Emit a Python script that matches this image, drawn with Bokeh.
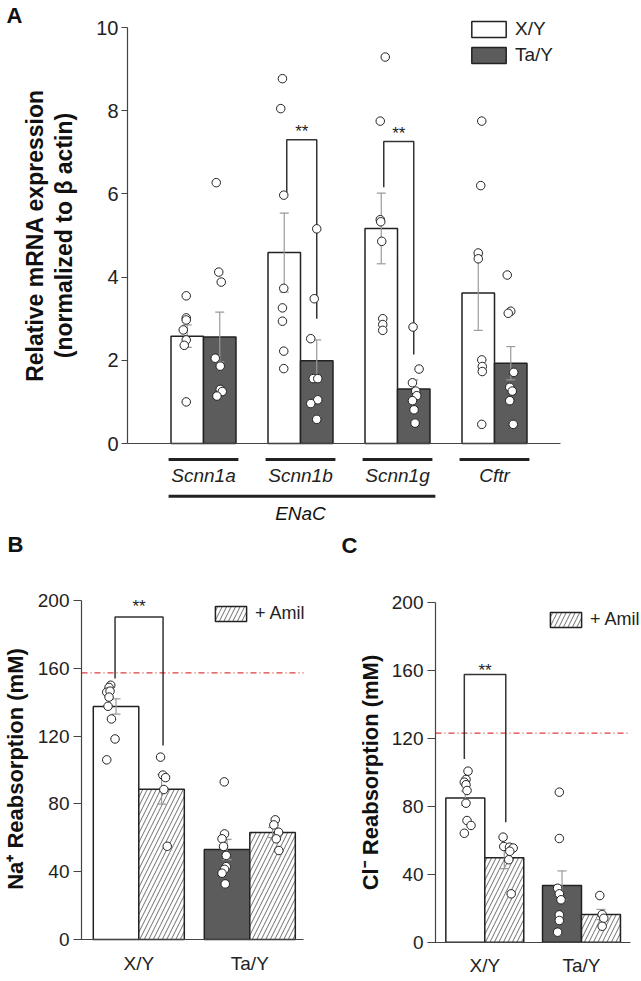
import numpy as np
from bokeh.plotting import figure
from bokeh.layouts import column, row
from bokeh.models import Range1d, FixedTicker, Legend, LegendItem
from bokeh.core.properties import value
from bokeh.embed import file_html
from bokeh.resources import INLINE

FONT = "Liberation Sans"
INK = "#222222"
AXC = "#444444"
DARK = "#5c5c5c"
ERRC = "#9a9a9a"
REDC = "#e03c3c"

# ---------------- Panel A data ----------------
genes = ["Scnn1a", "Scnn1b", "Scnn1g", "Cftr"]
a_xy_mean = [2.58, 4.59, 5.17, 3.62]
a_xy_sem = [0.27, 0.95, 0.85, 0.90]
a_ta_mean = [2.56, 1.99, 1.31, 1.93]
a_ta_sem = [0.60, 0.50, 0.22, 0.40]
a_xy_pts = [
    [3.55, 3.02, 2.97, 2.73, 2.49, 2.36, 1.00],
    [8.77, 8.05, 5.97, 3.73, 3.26, 2.94, 2.22, 1.80],
    [9.29, 7.75, 5.38, 5.33, 4.86, 3.00, 2.86, 2.72],
    [7.75, 6.20, 4.58, 4.44, 2.01, 1.85, 1.73, 0.46],
]
a_ta_pts = [
    [6.27, 4.12, 3.88, 2.05, 1.86, 1.30, 1.25, 1.14],
    [5.16, 3.48, 2.52, 1.56, 1.56, 1.05, 0.96, 0.58],
    [2.80, 1.79, 1.46, 1.26, 1.15, 1.03, 0.81, 0.49],
    [4.05, 3.18, 3.13, 1.71, 1.35, 1.26, 1.03, 0.46],
]
a_xy_jit = [
    [-1, -1, -1, -4, -1, -3, -1],
    [-1.8, -3.5, -0.5, -0.5, -1.8, -1.8, -0.5, -0.5],
    [4, -1, -1, -0.5, 0.5, 1.5, 1.5, 1.5],
    [3.5, 2.5, 0, 0, 3.5, 4, 4, 3.5],
]
a_ta_jit = [
    [-3.5, -1, 1.5, -4.5, 0.5, 0.5, 2.5, -2.8],
    [0, -2.5, -6, -3.5, 1, 1, -6, 0],
    [-0.7, 5.3, -1.3, 2, 3, -1.3, 0.3, 1.3],
    [-3.5, 0, -2.5, 3, -1, 1.5, -1, 2.5],
]
a_yticks = [0, 2, 4, 6, 8, 10]
a_ylabel = ["Relative mRNA expression", "(normalized to \u03b2 actin)"]
a_group_label = "ENaC"
a_enac_members = [0, 1, 2]
# significance brackets: (gene index, top, left-leg end, right-leg end)
a_brackets = [(1, 7.30, 5.98, 3.00), (2, 7.26, 6.16, 2.14)]

# ---------------- Panels B / C data ----------------
bc_groups = ["X/Y", "Ta/Y"]
bc_yticks = [0, 40, 80, 120, 160, 200]
amil_label = "+ Amil"

b_ctrl_mean = [137.5, 53.1]
b_ctrl_sem = [4.5, 6.0]
b_amil_mean = [88.7, 63.1]
b_amil_sem = [8.8, 3.0]
b_ctrl_pts = [
    [150.0, 148.7, 145.9, 146.5, 143.0, 137.6, 130.1, 118.3, 106.0],
    [93.0, 62.3, 59.4, 54.9, 49.6, 43.0, 41.4, 39.1, 32.8],
]
b_amil_pts = [
    [107.6, 97.0, 95.5, 88.5, 55.0],
    [70.6, 67.6, 63.3, 59.4, 52.5],
]
b_ctrl_jit = [[-5.3, -7, -9.3, -6, -7, -8, -4.6, -1, -9.3],
              [-2.8, -2.5, -5, -3.5, -0.8, -0.8, -2.5, -5, -1.8]]
b_amil_jit = [[-1, 1.3, 4, 2.3, 5.7], [2.7, 1.3, 6, 3.7, 6.3]]
b_ref = 157.3
b_bracket = (190.2, 154.0, 114.5)

c_ctrl_mean = [84.9, 33.4]
c_ctrl_sem = [4.2, 8.6]
c_amil_mean = [49.7, 16.3]
c_amil_sem = [6.3, 3.0]
c_ctrl_pts = [
    [100.8, 95.9, 94.3, 92.8, 89.4, 81.9, 71.7, 68.8, 64.2],
    [88.4, 61.1, 31.8, 28.5, 25.0, 16.1, 12.8, 5.9],
]
c_amil_pts = [
    [61.9, 56.4, 56.0, 55.5, 53.6, 48.6, 28.5],
    [27.5, 16.3, 14.1, 9.4],
]
c_ctrl_jit = [[2.7, 0.7, -1, 0.7, 1.7, 0.7, 1.7, 5.7, -1],
              [-2.7, -2.7, -4.4, -2.7, -1, -2.7, -2.7, -4.4]]
c_amil_jit = [[-1.2, -0.5, 5.2, 8.9, 5.5, 4.5, 6.9], [-1.2, 1.2, 2.8, 1.2]]
c_ref = 123.2
c_bracket = (157.8, 108.0, 70.7)


class Map:
    """pixel <-> data mapping of one panel (page pixels)."""
    def __init__(self, px1, ppu_x, py0, ppu_y):
        self.px1, self.ppu_x, self.py0, self.ppu_y = px1, ppu_x, py0, ppu_y

    def X(self, px):
        return 1 + (px - self.px1) / self.ppu_x

    def Y(self, py):
        return (self.py0 - py) / self.ppu_y


def new_fig(m, left, top, width, height):
    p = figure(width=width, height=height, min_border=0,
               min_border_left=0, min_border_right=0, min_border_top=0, min_border_bottom=0,
               x_range=Range1d(m.X(left), m.X(left + width)),
               y_range=Range1d(m.Y(top + height), m.Y(top)),
               output_backend="svg", toolbar_location=None)
    p.grid.visible = False
    p.outline_line_color = None
    for ax in p.axis:
        ax.axis_line_color = AXC
        ax.axis_line_width = 1.2
        ax.major_tick_line_color = AXC
        ax.major_tick_in = 0
        ax.minor_tick_line_color = None
        ax.major_label_text_font = FONT
        ax.major_label_text_color = INK
    return p


def txt(p, x, y, s, size, style="normal", align="center", baseline="middle", angle=0.0):
    p.text(x=[x], y=[y], text=[s], text_font=value(FONT), text_font_size=size,
           text_font_style=style, text_align=align, text_baseline=baseline,
           angle=angle, text_color="#111111")


def draw_pair(p, centers, w, mean, sem, fill, hatch, cap, lw=1.5):
    r = p.vbar(x=centers, top=mean, width=w, bottom=0, fill_color=fill,
               line_color=INK, line_width=lw,
               hatch_pattern=hatch, hatch_color="#4a4a4a", hatch_weight=0.8,
               hatch_scale=9)
    lo = [mm - s for mm, s in zip(mean, sem)]
    hi = [mm + s for mm, s in zip(mean, sem)]
    p.segment(x0=centers, x1=centers, y0=lo, y1=hi, line_color=ERRC, line_width=1.2)
    for yy in (lo, hi):
        p.segment(x0=[c - cap for c in centers], x1=[c + cap for c in centers],
                  y0=yy, y1=yy, line_color=ERRC, line_width=1.2)
    return r


def draw_points(p, centers, pts, jit, ppu):
    xs, ys = [], []
    for c, vals, js in zip(centers, pts, jit):
        for v, j in zip(vals, js):
            xs.append(c + j / ppu)
            ys.append(v)
    p.scatter(xs, ys, marker="circle", size=8.5, fill_color="white",
              line_color=INK, line_width=1)


def bracket(p, xl, xr, top, lend, rend, star_off_px):
    p.line([xl, xl, xr, xr], [lend, top, top, rend], line_color="#333333", line_width=1.5)
    p.text(x=[(xl + xr) / 2], y=[top], text=["**"], text_font=value(FONT),
           text_font_size="17px", text_align="center", text_baseline="alphabetic",
           y_offset=star_off_px, text_color="#222222")


PI2 = np.pi / 2

# ================= Panel A =================
mA = Map(203.0, 97.0, 443.0, 41.6)
pA = new_fig(mA, 0, 0, 641, 528)
pA.yaxis.fixed_location = mA.X(127)
pA.yaxis.bounds = (0, 10)
pA.yaxis.ticker = FixedTicker(ticks=a_yticks)
pA.yaxis.major_tick_out = 6
pA.yaxis.major_label_standoff = 3
pA.yaxis.major_label_text_font_size = "20px"
pA.xaxis.fixed_location = 0
pA.xaxis.bounds = (mA.X(127), mA.X(560))
pA.xaxis.ticker = FixedTicker(ticks=[])

gx = np.arange(1, len(genes) + 1)
hw = 0.1675
aw = 0.335
xy_c = list(gx - hw)
ta_c = list(gx + hw)
cap_a = 4.5 / mA.ppu_x
rA1 = draw_pair(pA, xy_c, aw, a_xy_mean, a_xy_sem, "white", None, cap_a)
rA2 = draw_pair(pA, ta_c, aw, a_ta_mean, a_ta_sem, DARK, None, cap_a)
for gi, top, le, re in a_brackets:
    bracket(pA, xy_c[gi] + 2.5 / mA.ppu_x, ta_c[gi], top, le, re, -8)
draw_points(pA, xy_c, a_xy_pts, a_xy_jit, mA.ppu_x)
draw_points(pA, ta_c, a_ta_pts, a_ta_jit, mA.ppu_x)

half = 0.36
und_y = mA.Y(459)
pA.segment(x0=list(gx - half), x1=list(gx + half), y0=[und_y] * len(gx),
           y1=[und_y] * len(gx), line_color=INK, line_width=3)
pA.text(x=list(gx), y=[mA.Y(475)] * len(gx), text=genes, text_font=value(FONT),
        text_font_style="italic", text_font_size="19px", text_align="center",
        text_baseline="middle", text_color=INK)
m0, m1 = gx[a_enac_members[0]], gx[a_enac_members[-1]]
pA.segment(x0=[m0 - half], x1=[m1 + 0.39], y0=[mA.Y(495.7)], y1=[mA.Y(495.7)],
           line_color=INK, line_width=3)
txt(pA, (m0 + m1) / 2, mA.Y(513), a_group_label, "19px", style="italic")
txt(pA, mA.X(34), mA.Y(235), a_ylabel[0], "23px", style="bold", angle=PI2)
txt(pA, mA.X(63), mA.Y(235), a_ylabel[1], "23px", style="bold", angle=PI2)
txt(pA, mA.X(6), mA.Y(15), "A", "22px", style="bold", align="left", baseline="middle")

legA = Legend(items=[LegendItem(label=bc_groups[0], renderers=[rA1]),
                     LegendItem(label=bc_groups[1], renderers=[rA2])],
              location=(467, 528 - 66), glyph_width=43, glyph_height=20, label_height=20,
              spacing=4, padding=0, margin=0, label_standoff=5,
              label_text_font=FONT, label_text_font_size="19px", label_text_color=INK,
              border_line_color=None, background_fill_alpha=0)
pA.add_layout(legA)


# ================= Panels B & C =================
def make_bc(m, left, width, bar_w, ylabel, ylab_px, ylab_py, ctrl_mean, ctrl_sem,
            amil_mean, amil_sem, ctrl_pts, amil_pts, ctrl_jit, amil_jit, ref, br,
            star_off, leg_px, leg_py_bottom, letter, letter_px, letter_py,
            axis_px, axis_end_px):
    top, height = 528, 450
    p = new_fig(m, left, top, width, height)
    p.yaxis.fixed_location = m.X(axis_px)
    p.yaxis.bounds = (0, 200)
    p.yaxis.ticker = FixedTicker(ticks=bc_yticks)
    p.yaxis.major_tick_out = 8
    p.yaxis.major_label_standoff = 4
    p.yaxis.major_label_text_font_size = "19px"
    p.xaxis.fixed_location = 0
    p.xaxis.bounds = (m.X(axis_px - 6), m.X(axis_end_px))
    p.xaxis.ticker = FixedTicker(ticks=[1, 2])
    p.xaxis.major_label_overrides = {1: bc_groups[0], 2: bc_groups[1]}
    p.xaxis.major_tick_line_color = None
    p.xaxis.major_tick_out = 0
    p.xaxis.major_label_standoff = 13
    p.xaxis.major_label_text_font_size = "19px"

    g = np.array([1.0, 2.0])
    hwb = bar_w / 2
    cc = list(g - hwb)
    ac = list(g + hwb)
    cap = 4.5 / m.ppu_x
    draw_pair(p, [cc[0]], bar_w, [ctrl_mean[0]], [ctrl_sem[0]], "white", None, cap)
    draw_pair(p, [cc[1]], bar_w, [ctrl_mean[1]], [ctrl_sem[1]], DARK, None, cap)
    ra = draw_pair(p, ac, bar_w, amil_mean, amil_sem, "white", "/", cap)
    p.line(x=[m.X(axis_px), m.X(axis_end_px)], y=[ref, ref], line_color=REDC,
           line_width=1.2, line_dash="6 3 1 3")
    bracket(p, cc[0] - 1 / m.ppu_x, ac[0] + 1.5 / m.ppu_x, br[0], br[1], br[2], star_off)
    draw_points(p, cc, ctrl_pts, ctrl_jit, m.ppu_x)
    draw_points(p, ac, amil_pts, amil_jit, m.ppu_x)
    txt(p, m.X(ylab_px), m.Y(ylab_py), ylabel, "22px", style="bold", angle=PI2)
    txt(p, m.X(letter_px), m.Y(letter_py), letter, "22px", style="bold",
        align="left", baseline="middle")
    leg = Legend(items=[LegendItem(label=amil_label, renderers=[ra])],
                 location=(leg_px - left, top + height - leg_py_bottom),
                 glyph_width=39, glyph_height=19, label_height=19,
                 padding=0, margin=0, label_standoff=5, spacing=0,
                 label_text_font=FONT, label_text_font_size="18px", label_text_color=INK,
                 border_line_color=None, background_fill_alpha=0)
    p.add_layout(leg)
    return p


mB = Map(138.3, 111.0, 939.0, 1.695)
pB = make_bc(mB, 0, 320, 0.41, "Na\u207a Reabsorption (mM)", 15, 768.5,
             b_ctrl_mean, b_ctrl_sem, b_amil_mean, b_amil_sem, b_ctrl_pts, b_amil_pts,
             b_ctrl_jit, b_amil_jit, b_ref, b_bracket, -11, 211, 624.3, "B", 7, 544,
             81, 303)
mC = Map(484.3, 96.7, 941.7, 1.697)
pC = make_bc(mC, 320, 321, 0.403, "Cl\u207b Reabsorption (mM)", 370, 772,
             c_ctrl_mean, c_ctrl_sem, c_amil_mean, c_amil_sem, c_ctrl_pts, c_amil_pts,
             c_ctrl_jit, c_amil_jit, c_ref, c_bracket, -4, 546, 630, "C", 341, 544.5,
             435, 630)

layout = column(pA, row(pB, pC, spacing=0), spacing=0)
open("out.html", "w").write(file_html(layout, INLINE))
